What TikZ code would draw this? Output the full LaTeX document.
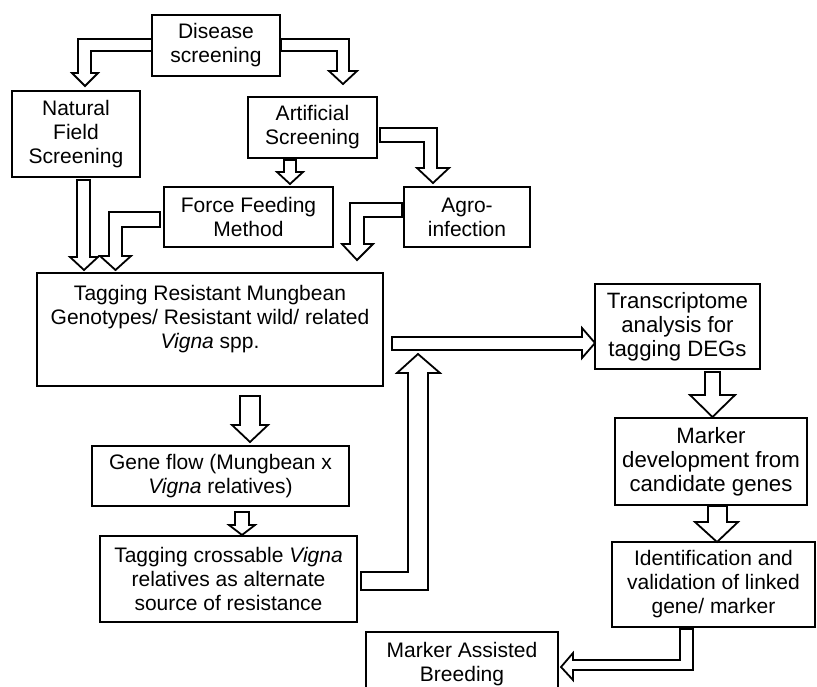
\documentclass[tikz,border=0pt]{standalone}
\usepackage{fontspec}
\setmainfont{Liberation Sans}
\begin{document}
\begin{tikzpicture}[x=1pt,y=-1pt,
  box/.style={draw, line width=1.2pt, align=center, inner sep=0pt, font=\fontsize{21pt}{24pt}\selectfont},
  txt/.style={align=center, inner sep=0pt, font=\fontsize{21pt}{24pt}\selectfont},
  bigtxt/.style={font=\fontsize{22.2pt}{24pt}\selectfont},
  barrow/.style={draw, line width=1.8pt, fill=white, line join=miter}]
\useasboundingbox (0,0) rectangle (817,686);
\clip (0,0) rectangle (817,686);
\fill[white] (0,0) rectangle (817,686);

% boxes
\node[box, minimum width=128pt, minimum height=61pt] (dis) at (216,45.5) {Disease\\screening};
\node[box, minimum width=128pt, minimum height=86pt] (nat) at (76,134) {Natural\\Field\\Screening};
\node[box, minimum width=129pt, minimum height=61pt] (art) at (312.5,127.5) {Artificial\\Screening};
\node[box, minimum width=169pt, minimum height=60pt] (ff) at (248.5,217) {Force Feeding\\Method};
\node[box, minimum width=126pt, minimum height=60pt] (agro) at (467,217) {Agro-\\infection};
\node[box, minimum width=346pt, minimum height=113pt] (tag) at (210,329.5) {};
\node[txt, anchor=north] (tagtext) at (210,285) {Tagging Resistant Mungbean\\Genotypes/ Resistant wild/ related\\\textit{Vigna} spp.};
\node[box, minimum width=257pt, minimum height=60pt] (gene) at (220.5,476) {Gene flow (Mungbean x\\\textit{Vigna} relatives)};
\node[box, minimum width=257pt, minimum height=86pt] (cross) at (228.5,579) {Tagging crossable \textit{Vigna}\\relatives as alternate\\source of resistance};
\node[box, minimum width=192pt, minimum height=68pt] (mab) at (462,666) {};
\node[txt, anchor=north] (mabtext) at (462,642) {Marker Assisted\\Breeding};
\node[box, bigtxt, minimum width=165pt, minimum height=85pt] (trans) at (677.5,326.5) {Transcriptome\\analysis for\\tagging DEGs};
\node[box, bigtxt, minimum width=192pt, minimum height=87pt] (mdev) at (711,461.5) {Marker\\development from\\candidate genes};
\node[box, minimum width=203pt, minimum height=85pt] (ident) at (713.5,584.5) {Identification and\\validation of linked\\gene/ marker};

% block arrows
% Disease -> Natural
\draw[barrow] (152,39) -- (78,39) -- (78,73) -- (72,73) -- (85,86) -- (98,73) -- (91,73) -- (91,51) -- (152,51) -- cycle;
% Disease -> Artificial
\draw[barrow] (281,39) -- (349,39) -- (349,71) -- (357,71) -- (343,84) -- (329,71) -- (337,71) -- (337,51) -- (281,51) -- cycle;
% Natural -> Tagging
\draw[barrow] (77,180) -- (90,180) -- (90,257) -- (98,257) -- (84,270) -- (70,257) -- (77,257) -- cycle;
% Force feeding -> Tagging
\draw[barrow] (160,212) -- (109,212) -- (109,256) -- (100,256) -- (115.5,270) -- (131,256) -- (122,256) -- (122,227) -- (160,227) -- cycle;
% Artificial -> Force feeding
\draw[barrow] (284,160) -- (296,160) -- (296,172) -- (303,172) -- (290,184) -- (277,172) -- (284,172) -- cycle;
% Artificial -> Agro
\draw[barrow] (380,128) -- (437,128) -- (437,168) -- (449,168) -- (433,183) -- (417,168) -- (424,168) -- (424,142) -- (380,142) -- cycle;
% Agro -> Tagging
\draw[barrow] (402,203) -- (350,203) -- (350,244) -- (342,244) -- (357,260) -- (373,244) -- (364,244) -- (364,217) -- (402,217) -- cycle;
% Tagging -> Gene flow
\draw[barrow] (240,396) -- (260,396) -- (260,425) -- (268,425) -- (250,442) -- (232,425) -- (240,425) -- cycle;
% Gene flow -> crossable
\draw[barrow] (235,512) -- (249,512) -- (249,525) -- (255,525) -- (242,535) -- (229,525) -- (235,525) -- cycle;
% crossable -> up
\draw[barrow] (361,572) -- (408,572) -- (408,373) -- (397,373) -- (418,354) -- (440,373) -- (428,373) -- (428,590) -- (361,590) -- cycle;
% Tagging -> Transcriptome
\draw[barrow] (392,337) -- (582,337) -- (582,328) -- (595,343) -- (582,358) -- (582,350) -- (392,350) -- cycle;
% Transcriptome -> Marker development
\draw[barrow] (705,372) -- (720,372) -- (720,395) -- (735,395) -- (712.5,417) -- (690,395) -- (705,395) -- cycle;
% Marker development -> Identification
\draw[barrow] (708,506) -- (727,506) -- (727,522) -- (738,522) -- (717,542) -- (695,522) -- (708,522) -- cycle;
% Identification -> MAB
\draw[barrow] (680,629) -- (693,629) -- (693,670) -- (573,670) -- (573,680) -- (561,667) -- (573,653) -- (573,660) -- (680,660) -- cycle;
\end{tikzpicture}
\end{document}
